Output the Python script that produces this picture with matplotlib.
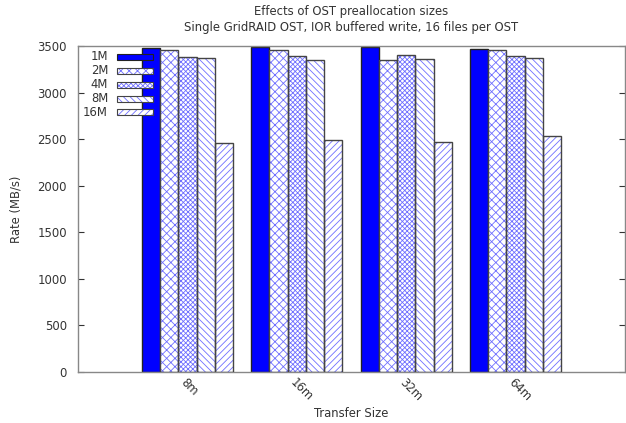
import matplotlib
matplotlib.use("Agg")
import matplotlib.pyplot as plt
from matplotlib.patches import Rectangle
import numpy as np

categories = ["8m", "16m", "32m", "64m"]
series_names = ["1M", "2M", "4M", "8M", "16M"]
values = {
    "1M":  [3480, 3490, 3490, 3475],
    "2M":  [3460, 3465, 3355, 3460],
    "4M":  [3390, 3395, 3405, 3395],
    "8M":  [3375, 3360, 3370, 3375],
    "16M": [2462, 2490, 2470, 2540],
}
hatches = [None, "xxxx", "xxxxxxx", "\\" * 5, "/" * 5]

FS = 8.4
TC = "#333333"
plt.rcParams['font.family'] = ['DejaVu Sans']
plt.rcParams['hatch.linewidth'] = 0.6
fig = plt.figure(figsize=(6.26, 4.23), dpi=100)
ax = fig.add_axes([78/626, 1-371.7/423, (625-78)/626, (371.7-46.5)/423])

blue = "#0000ff"
hblue = "#6f6fff"
edge = "#444444"
w = 1/6
x = np.arange(len(categories))
for i, name in enumerate(series_names):
    pos = x + (i - 2) * w
    if hatches[i] is None:
        ax.bar(pos, values[name], width=w, color=blue, edgecolor="#222222", linewidth=1.0, zorder=2)
    else:
        ax.bar(pos, values[name], width=w, color="white", edgecolor=hblue, hatch=hatches[i], linewidth=0, zorder=2)
        ax.bar(pos, values[name], width=w, fill=False, edgecolor=edge, linewidth=1.0, zorder=3)

ax.set_xlim(-1, 4)
ax.set_ylim(0, 3500)
ax.set_yticks(np.arange(0, 3501, 500))
ax.set_xticks(x)
ax.set_xticklabels(categories, rotation=-45, ha="left", va="top", rotation_mode="anchor", fontsize=FS, color=TC)
ax.tick_params(axis="x", length=0, pad=3)
ax.tick_params(axis="y", direction="in", length=4, right=True, labelsize=FS, colors=TC, width=0.8, pad=8)
for s in ax.spines.values():
    s.set_color("#888888")
    s.set_linewidth(1.0)

ax.set_ylabel("Rate (MB/s)", fontsize=FS, color=TC)
ax.set_xlabel("Transfer Size", fontsize=FS, color=TC)
ax.xaxis.set_label_coords(0.5, -(413-371.7)/(371.7-46.5))
ax.xaxis.label.set_va("center")
ax.yaxis.set_label_coords(-(78-16)/(625-78), 0.5)
ax.yaxis.label.set_va("center")

ax.text(0.5, 1 + (46.5-12)/(371.7-46.5), "Effects of OST preallocation sizes", transform=ax.transAxes,
        ha="center", va="center", fontsize=FS, color=TC)
ax.text(0.5, 1 + (46.5-27)/(371.7-46.5), "Single GridRAID OST, IOR buffered write, 16 files per OST", transform=ax.transAxes,
        ha="center", va="center", fontsize=FS, color=TC)

# legend (gnuplot-style, inside top-left)
ys = [57, 71, 85, 99, 112]
for i, name in enumerate(series_names):
    yc = ys[i]
    fig.text(108/626, 1-yc/423, name, ha="right", va="center", fontsize=FS, color=TC)
    rx0, rx1 = 117/626, 153/626
    h = 6/423
    if hatches[i] is None:
        fig.patches.append(Rectangle((rx0, 1-yc/423-h/2), rx1-rx0, h, transform=fig.transFigure,
                                     facecolor=blue, edgecolor="#222222", linewidth=0.8, zorder=5))
    else:
        fig.patches.append(Rectangle((rx0, 1-yc/423-h/2), rx1-rx0, h, transform=fig.transFigure,
                                     facecolor="white", edgecolor=hblue, hatch=hatches[i], linewidth=0, zorder=5))
        fig.patches.append(Rectangle((rx0, 1-yc/423-h/2), rx1-rx0, h, transform=fig.transFigure,
                                     fill=False, edgecolor=edge, linewidth=0.8, zorder=6))

fig.savefig("out.png", dpi=100)
